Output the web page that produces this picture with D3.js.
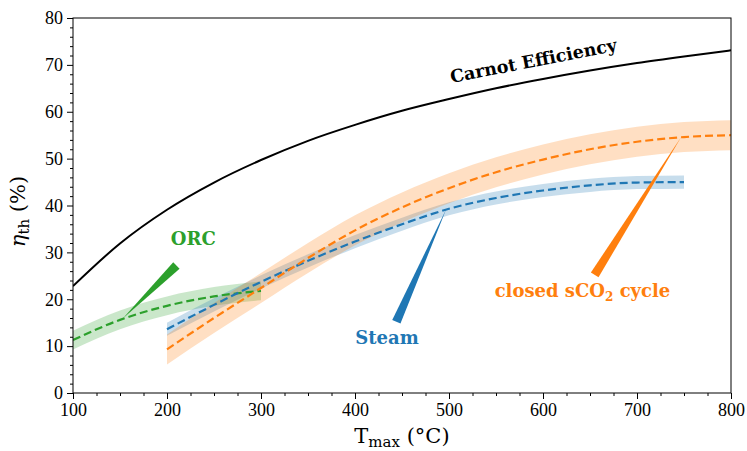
<!DOCTYPE html>
<html>
<head>
<meta charset="utf-8">
<script src="https://cdn.jsdelivr.net/npm/d3@7"></script>
<style>
  body { margin: 0; background: #fff; }
  svg text { font-family: "Liberation Serif", "Times New Roman", "DejaVu Serif", serif; }
  svg text.lbl { font-family: "DejaVu Serif", "Liberation Serif", serif; font-weight: bold; }
  svg text.axlbl { font-family: "DejaVu Serif", "Liberation Serif", serif; }
</style>
</head>
<body>
<svg id="chart" width="747" height="451"></svg>
<script>
'use strict';

// temperatures (°C) and efficiencies (%)
var carnotT   = [100, 150, 200, 250, 300, 350, 400, 450, 500, 550, 600, 650, 700, 750, 800];
var carnotEta = [22.8, 31.9, 39.1, 44.9, 49.7, 53.8, 57.2, 60.2, 62.7, 65.0, 67.0, 68.8, 70.4, 71.8, 73.1];

var orcT   = [100, 150, 200, 250, 300];
var orcEta = [11.3, 15.6, 18.6, 20.6, 21.8];
var orcSpread = 2.0;

var steamT   = [200, 250, 300, 350, 400, 450, 500, 550, 600, 650, 700, 750];
var steamEta = [13.6, 18.8, 23.7, 28.2, 32.3, 36.0, 39.3, 41.6, 43.2, 44.3, 44.9, 45.0];
var steamSpread = 1.4;

var sco2T   = [200, 250, 300, 350, 400, 450, 500, 550, 600, 650, 700, 750, 800];
var sco2Eta = [9.3, 16.0, 22.4, 28.8, 34.7, 39.6, 43.7, 47.1, 49.8, 52.0, 53.6, 54.6, 55.0];
var sco2Spread = 3.2;

var xTicks = [100, 200, 300, 400, 500, 600, 700, 800];
var yTicks = [0, 10, 20, 30, 40, 50, 60, 70, 80];

// annotations: text position, wedge base, wedge tip (data units)
var notes = [
  { name: 'ORC',   color: '#2ca02c', text: [228, 31.6], base: [210, 27.2], tip: [153, 15.9] },
  { name: 'Steam', color: '#1f77b4', text: [434, 10.4], base: [444, 15.2], tip: [497, 39.2] },
  { name: 'sCO2',  color: '#ff7f0e', text: [642, 20.4], base: [655, 25.2], tip: [747, 54.6] }
];

var svg = d3.select('#chart');
var margin = {top: 18, right: 16, bottom: 58, left: 73};
var W = 747 - margin.left - margin.right;
var H = 451 - margin.top - margin.bottom;
var g = svg.append('g').attr('transform', 'translate(' + margin.left + ',' + margin.top + ')');

var x = d3.scaleLinear().domain([100, 800]).range([0, W]);
var y = d3.scaleLinear().domain([0, 80]).range([H, 0]);

g.append('defs').append('clipPath').attr('id', 'clip')
  .append('rect').attr('width', W).attr('height', H);
var plot = g.append('g').attr('clip-path', 'url(#clip)');

function zip(ts, vs) {
  return ts.map(function(t, i){ return {t: t, v: vs[i]}; });
}

var line = d3.line()
  .x(function(d){ return x(d.t); })
  .y(function(d){ return y(d.v); })
  .curve(d3.curveMonotoneX);

function band(spread) {
  return d3.area()
    .x(function(d){ return x(d.t); })
    .y0(function(d){ return y(d.v - spread); })
    .y1(function(d){ return y(d.v + spread); })
    .curve(d3.curveMonotoneX);
}

var series = [
  { data: zip(orcT, orcEta),     spread: orcSpread,   color: '#2ca02c' },
  { data: zip(steamT, steamEta), spread: steamSpread, color: '#1f77b4' },
  { data: zip(sco2T, sco2Eta),   spread: sco2Spread,  color: '#ff7f0e' }
];

series.forEach(function(s){
  plot.append('path').datum(s.data)
    .attr('d', band(s.spread))
    .attr('fill', s.color).attr('fill-opacity', 0.25);
});
series.forEach(function(s){
  plot.append('path').datum(s.data)
    .attr('d', line)
    .attr('fill', 'none').attr('stroke', s.color)
    .attr('stroke-width', 2.2).attr('stroke-dasharray', '8,4');
});

plot.append('path').datum(zip(carnotT, carnotEta))
  .attr('d', line)
  .attr('fill', 'none').attr('stroke', '#000').attr('stroke-width', 2);

// carnot label
var cl = [591, 69.6];
g.append('text').attr('class', 'lbl')
  .attr('transform', 'translate(' + x(cl[0]) + ',' + y(cl[1]) + ') rotate(-11)')
  .attr('text-anchor', 'middle').attr('font-size', 17.5)
  .text('Carnot Efficiency');

// wedge annotations
notes.forEach(function(n){
  var bx = x(n.base[0]), by = y(n.base[1]);
  var tx = x(n.tip[0]), ty = y(n.tip[1]);
  var dx = tx - bx, dy = ty - by, len = Math.sqrt(dx*dx + dy*dy);
  var nx = -dy / len * 4.5, ny = dx / len * 4.5;
  g.append('path')
    .attr('d', 'M' + (bx + nx) + ',' + (by + ny) + 'L' + (bx - nx) + ',' + (by - ny) + 'L' + tx + ',' + ty + 'Z')
    .attr('fill', n.color);

  var t = g.append('text').attr('class', 'lbl')
    .attr('x', x(n.text[0])).attr('y', y(n.text[1]))
    .attr('text-anchor', 'middle').attr('font-size', 18)
    .attr('fill', n.color);
  if (n.name === 'sCO2') {
    t.append('tspan').text('closed sCO');
    t.append('tspan').attr('font-size', 12).attr('dy', 4).text('2');
    t.append('tspan').attr('dy', -4).text(' cycle');
  } else {
    t.text(n.name);
  }
});

// axes
g.append('g').attr('transform', 'translate(0,' + H + ')')
  .call(d3.axisBottom(x).tickValues(xTicks).tickSize(6).tickPadding(4).tickFormat(d3.format('d')));
g.append('g').attr('transform', 'translate(0,' + H + ')')
  .call(d3.axisBottom(x).tickValues(d3.range(125, 800, 25).filter(function(v){ return v % 100; })).tickSize(3).tickFormat(''));

g.append('g')
  .call(d3.axisLeft(y).tickValues(yTicks).tickSize(6).tickPadding(4).tickFormat(d3.format('d')));
g.append('g')
  .call(d3.axisLeft(y).tickValues(d3.range(2, 80, 2).filter(function(v){ return v % 10; })).tickSize(3).tickFormat(''));

svg.selectAll('.tick text').attr('font-size', 18).attr('fill', '#000')
  .attr('font-family', null)
  .style('font-family', '"Liberation Serif", "Times New Roman", serif');
svg.selectAll('.tick line').attr('stroke', '#000');
svg.selectAll('.domain').remove();

g.append('rect').attr('width', W).attr('height', H)
  .attr('fill', 'none').attr('stroke', '#000').attr('stroke-width', 1);

// axis labels
var xl = g.append('text').attr('class', 'axlbl').attr('x', W / 2).attr('y', H + 50)
  .attr('text-anchor', 'middle').attr('font-size', 21);
xl.append('tspan').text('T');
xl.append('tspan').attr('font-size', 15).attr('dy', 4).text('max');
xl.append('tspan').attr('dy', -4).text(' (°C)');

var yl = g.append('text').attr('class', 'axlbl')
  .attr('transform', 'translate(-48,' + (H / 2 + 6) + ') rotate(-90)')
  .attr('text-anchor', 'middle').attr('font-size', 21);
yl.append('tspan').attr('font-style', 'italic').text('η');
yl.append('tspan').attr('font-size', 15).attr('dy', 4).text('th');
yl.append('tspan').attr('dy', -4).text(' (%)');
</script>
</body>
</html>
